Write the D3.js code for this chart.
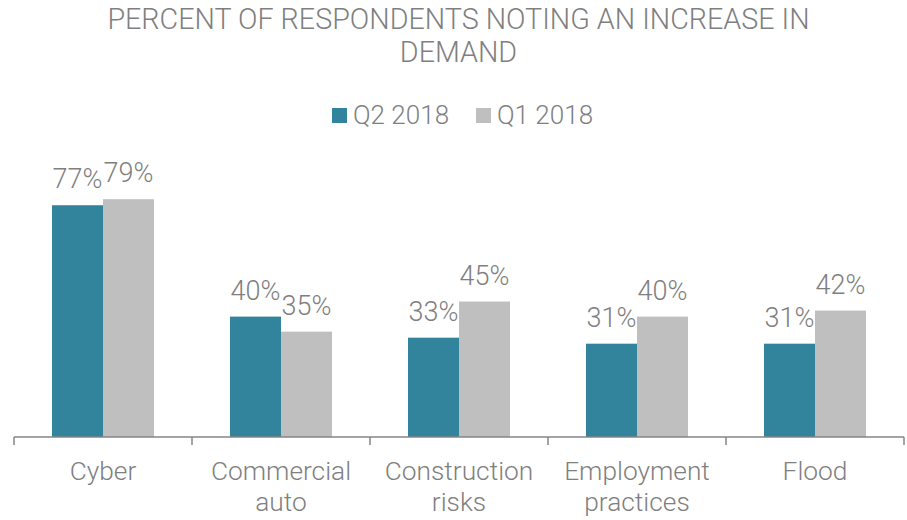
<!DOCTYPE html>
<html>
<head>
<meta charset="utf-8">
<script src="https://cdn.jsdelivr.net/npm/d3@7"></script>
<style>
  html, body { margin: 0; padding: 0; background: #fff; }
  svg { display: block; font-family: Roboto, "Noto Sans", sans-serif; font-weight: 300; }
</style>
</head>
<body>
<svg id="chart" width="907" height="520"></svg>
<script>
// Survey data: share of respondents noting an increase in demand
const categories = [["Cyber"], ["Commercial", "auto"], ["Construction", "risks"], ["Employment", "practices"], ["Flood"]];
const seriesNames = ["Q2 2018", "Q1 2018"];
const q2_2018 = [77, 40, 33, 31, 31];
const q1_2018 = [79, 35, 45, 40, 42];
const titleLines = ["PERCENT OF RESPONDENTS NOTING AN INCREASE IN", "DEMAND"];

const colors = ["#31849B", "#BFBFBF"];
const textColor = "#7F7F7F";

const svg = d3.select("#chart");
const W = 907;
const margin = { left: 14, right: 3, baseline: 437 };

const keys = categories.map(c => c.join(" "));
const rows = keys.map((k, i) => ({ key: k, values: [q2_2018[i], q1_2018[i]] }));

const x0 = d3.scaleBand().domain(keys).range([margin.left, W - margin.right]).paddingInner(0).paddingOuter(0);
const x1 = d3.scaleBand().domain(seriesNames).range([0, x0.bandwidth()]).paddingInner(0).paddingOuter(0.745);
const y = d3.scaleLinear().domain([0, 80]).range([margin.baseline, margin.baseline - 240.8]);

// Title
svg.append("g").selectAll("text").data(titleLines).join("text")
  .attr("x", W / 2 + 5)
  .attr("y", (d, i) => 29 + i * 33)
  .attr("text-anchor", "middle")
  .attr("fill", textColor)
  .attr("font-size", 28.7)
  .text(d => d);

// Legend
const legend = svg.append("g");
const legendX = [332, 476];
seriesNames.forEach((name, i) => {
  legend.append("rect").attr("x", legendX[i]).attr("y", 108).attr("width", 15).attr("height", 15).attr("fill", colors[i]);
  legend.append("text").attr("x", legendX[i] + 21).attr("y", 124)
    .attr("fill", textColor).attr("font-size", 26).text(name);
});

// Bars
const groups = svg.append("g").selectAll("g").data(rows).join("g")
  .attr("transform", d => `translate(${x0(d.key)},0)`);

groups.selectAll("rect").data(d => d.values.map((v, i) => ({ series: seriesNames[i], v, i }))).join("rect")
  .attr("x", d => x1(d.series))
  .attr("y", d => y(d.v))
  .attr("width", x1.bandwidth())
  .attr("height", d => y(0) - y(d.v))
  .attr("fill", d => colors[d.i]);

groups.selectAll("text.val").data(d => d.values.map((v, i) => ({ series: seriesNames[i], v, i }))).join("text")
  .attr("class", "val")
  .attr("x", d => x1(d.series) + x1.bandwidth() / 2)
  .attr("y", d => y(d.v) - 17)
  .attr("text-anchor", "middle")
  .attr("fill", textColor)
  .attr("font-size", 27)
  .text(d => d.v + "%");

// Category axis
const axis = svg.append("g").attr("transform", `translate(0,${margin.baseline})`);
axis.append("line").attr("x1", margin.left).attr("x2", W - margin.right).attr("y1", 0).attr("y2", 0)
  .attr("stroke", "#868686").attr("stroke-width", 1.5);
const tickXs = keys.map(k => x0(k)).concat([x0(keys[keys.length - 1]) + x0.bandwidth()]);
axis.selectAll("line.tick").data(tickXs).join("line").attr("class", "tick")
  .attr("x1", d => d).attr("x2", d => d).attr("y1", 0).attr("y2", 8)
  .attr("stroke", "#868686").attr("stroke-width", 1.5);

const labels = axis.selectAll("text.cat").data(categories).join("text").attr("class", "cat")
  .attr("text-anchor", "middle")
  .attr("fill", textColor)
  .attr("font-size", 26.3);
labels.each(function (lines, i) {
  const cx = x0(keys[i]) + x0.bandwidth() / 2;
  d3.select(this).selectAll("tspan").data(lines).join("tspan")
    .attr("x", cx)
    .attr("y", (d, j) => 43 + j * 31)
    .text(d => d);
});
</script>
</body>
</html>
